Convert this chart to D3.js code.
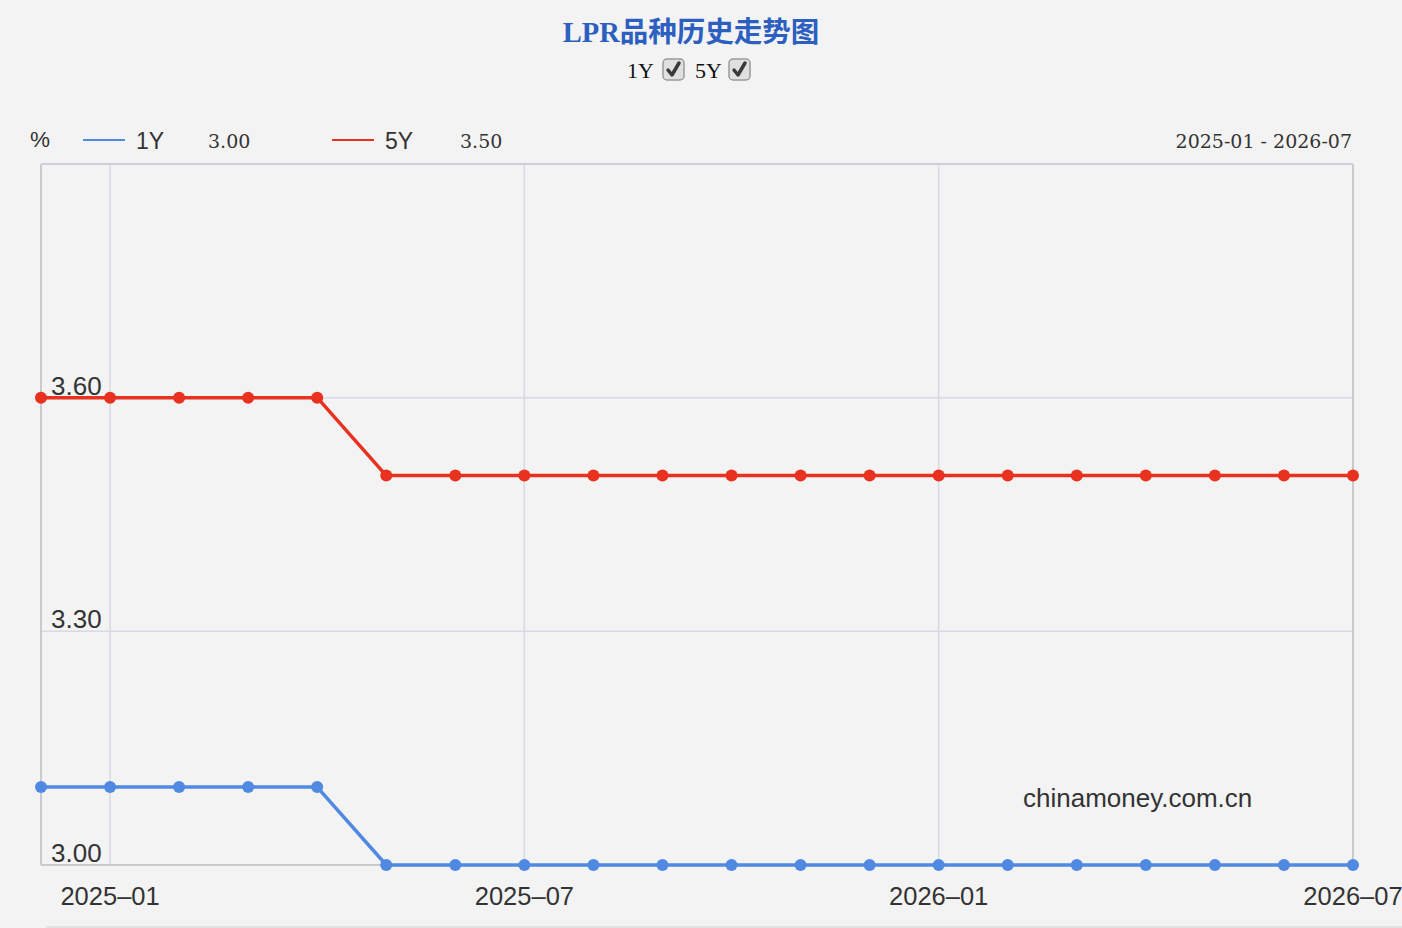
<!DOCTYPE html>
<html>
<head>
<meta charset="utf-8">
<script src="https://cdn.jsdelivr.net/npm/d3@7"></script>
<style>
  html, body { margin: 0; padding: 0; background: #f3f3f3; }
  svg { display: block; }
</style>
</head>
<body>
<svg id="chart" width="1402" height="928"></svg>
<script>
const months = ["2024-12","2025-01","2025-02","2025-03","2025-04","2025-05","2025-06","2025-07","2025-08","2025-09","2025-10","2025-11","2025-12","2026-01","2026-02","2026-03","2026-04","2026-05","2026-06","2026-07"];
const lpr1Y = [3.10,3.10,3.10,3.10,3.10,3.00,3.00,3.00,3.00,3.00,3.00,3.00,3.00,3.00,3.00,3.00,3.00,3.00,3.00,3.00];
const lpr5Y = [3.60,3.60,3.60,3.60,3.60,3.50,3.50,3.50,3.50,3.50,3.50,3.50,3.50,3.50,3.50,3.50,3.50,3.50,3.50,3.50];
const yTicks = [3.00, 3.30, 3.60];
const xTicks = ["2025-01","2025-07","2026-01","2026-07"];
const seriesNames = ["1Y","5Y"];
const latestValues = ["3.00","3.50"];
const rangeLabel = "2025-01 - 2026-07";
const titleText = "LPR品种历史走势图";

const colors = {"1Y": "#5089e2", "5Y": "#e8311f"};
const svg = d3.select("#chart");
const L = 41, R = 1353, T = 164, B = 865;

const x = d3.scalePoint().domain(months).range([L, R]);
const y = d3.scaleLinear().domain([3.0, 3.9]).range([B, T]);

const sans = "'Liberation Sans', Arial, sans-serif";
const serif = "'DejaVu Serif', 'Liberation Serif', serif";
const titleSerif = "'Liberation Serif', 'Noto Sans CJK SC', serif";

// title
svg.append("text").attr("x", 691).attr("y", 42).attr("text-anchor", "middle")
  .attr("font-family", titleSerif).attr("font-weight", "bold").attr("font-size", 28.5)
  .attr("fill", "#2c5fc0").text(titleText);

// checkbox row
const cbPos = [{tx: 627, bx: 663}, {tx: 695, bx: 729}];
seriesNames.forEach((s, i) => {
  svg.append("text").attr("x", cbPos[i].tx).attr("y", 78)
    .attr("font-family", titleSerif).attr("font-size", 22).attr("fill", "#111").text(s);
  svg.append("rect").attr("x", cbPos[i].bx).attr("y", 59).attr("width", 21).attr("height", 21)
    .attr("rx", 4).attr("fill", "#e0e0e0").attr("stroke", "#9a9a9a").attr("stroke-width", 1.5);
  svg.append("path")
    .attr("d", `M${cbPos[i].bx+5},${70} L${cbPos[i].bx+9},${75} L${cbPos[i].bx+16},${63}`)
    .attr("fill", "none").attr("stroke", "#3a3a3a").attr("stroke-width", 3.5)
    .attr("stroke-linecap", "round").attr("stroke-linejoin", "round");
});

// legend row
svg.append("text").attr("x", 30).attr("y", 147).attr("font-family", sans)
  .attr("font-size", 22.5).attr("fill", "#333").text("%");
const legPos = [{lx: 83, tx: 136, vx: 208}, {lx: 332, tx: 385, vx: 460}];
seriesNames.forEach((s, i) => {
  svg.append("line").attr("x1", legPos[i].lx).attr("x2", legPos[i].lx + 42)
    .attr("y1", 140).attr("y2", 140).attr("stroke", colors[s]).attr("stroke-width", 2);
  svg.append("text").attr("x", legPos[i].tx).attr("y", 149).attr("font-family", sans)
    .attr("font-size", 23).attr("fill", "#333").text(s);
  svg.append("text").attr("x", legPos[i].vx).attr("y", 148).attr("font-family", serif)
    .attr("font-size", 19).attr("fill", "#333").text(latestValues[i]);
});
svg.append("text").attr("x", 1352).attr("y", 148).attr("text-anchor", "end")
  .attr("font-family", serif).attr("font-size", 19).attr("fill", "#333").text(rangeLabel);

// grid
const grid = svg.append("g");
grid.selectAll(".hg").data(yTicks.concat([3.9])).enter().append("line")
  .attr("x1", L).attr("x2", R).attr("y1", d => y(d)).attr("y2", d => y(d))
  .attr("stroke", "#d8d9e3").attr("stroke-width", 1.5);
grid.selectAll(".vg").data(xTicks).enter().append("line")
  .attr("x1", d => x(d)).attr("x2", d => x(d)).attr("y1", T).attr("y2", B)
  .attr("stroke", "#d8d9e3").attr("stroke-width", 1.5);
// frame
svg.append("line").attr("x1", L).attr("x2", L).attr("y1", T).attr("y2", B)
  .attr("stroke", "#c9c9ce").attr("stroke-width", 2);
svg.append("line").attr("x1", R).attr("x2", R).attr("y1", T).attr("y2", B)
  .attr("stroke", "#c9c9ce").attr("stroke-width", 2);
svg.append("line").attr("x1", L).attr("x2", R).attr("y1", T).attr("y2", T)
  .attr("stroke", "#cfd0d6").attr("stroke-width", 2);
svg.append("line").attr("x1", L).attr("x2", R).attr("y1", B).attr("y2", B)
  .attr("stroke", "#c9c9ce").attr("stroke-width", 2);

// y labels
svg.selectAll(".yl").data(yTicks).enter().append("text")
  .attr("x", 51).attr("y", d => y(d) - 3)
  .attr("font-family", sans).attr("font-size", 26).attr("fill", "#333")
  .text(d => d.toFixed(2));

// x labels
svg.selectAll(".xl").data(xTicks).enter().append("text")
  .attr("x", d => x(d)).attr("y", 905).attr("text-anchor", "middle")
  .attr("font-family", sans).attr("font-size", 25.5).attr("fill", "#333")
  .text(d => d.replace("-", "–"));

// bottom rule
svg.append("line").attr("x1", 46).attr("x2", 1402).attr("y1", 927).attr("y2", 927)
  .attr("stroke", "#dcdcdc").attr("stroke-width", 1.5);

// watermark
svg.append("text").attr("x", 1023).attr("y", 807).attr("font-family", sans)
  .attr("font-size", 26).attr("fill", "#333").text("chinamoney.com.cn");

// series
const seriesData = {"1Y": lpr1Y, "5Y": lpr5Y};
const line = d3.line().x((d, i) => x(months[i])).y(d => y(d));
seriesNames.forEach(s => {
  const g = svg.append("g");
  g.append("path").datum(seriesData[s]).attr("d", line)
    .attr("fill", "none").attr("stroke", colors[s]).attr("stroke-width", 3.5)
    .attr("stroke-linejoin", "round");
  g.selectAll("circle").data(seriesData[s]).enter().append("circle")
    .attr("cx", (d, i) => x(months[i])).attr("cy", d => y(d)).attr("r", 6)
    .attr("fill", colors[s]);
});
</script>
</body>
</html>
